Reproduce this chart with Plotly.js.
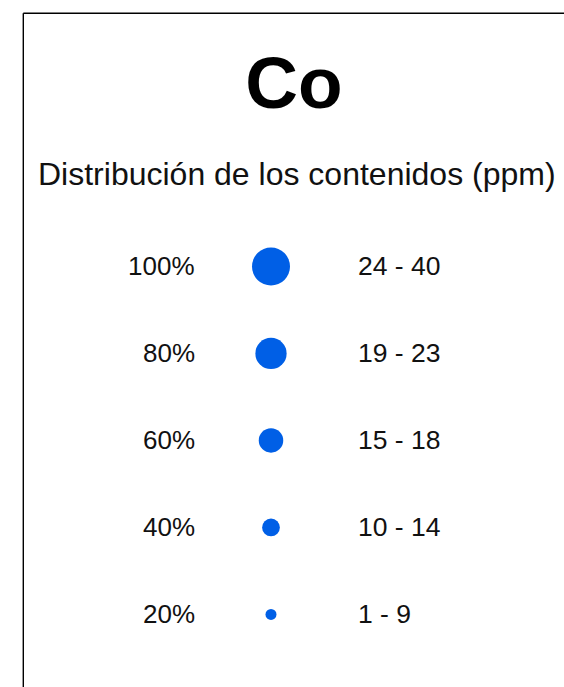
<!DOCTYPE html>
<html>
<head>
<meta charset="utf-8">
<script src="https://cdn.plot.ly/plotly-3.0.1.min.js"></script>
<style>html,body{margin:0;padding:0;background:#fff;}#chart{width:564px;height:687px;}</style>
</head>
<body>
<div id="chart"></div>
<script>
// Data
var elementName = 'Co';
var subtitleText = 'Distribución de los contenidos (ppm)';
var percentValues = [100, 80, 60, 40, 20];
var percentLabels = ['100%', '80%', '60%', '40%', '20%'];
var rangeLabels = ['24 - 40', '19 - 23', '15 - 18', '10 - 14', '1 - 9'];

// Size scale: 20% -> 11px, 100% -> 38px
function sizeScale(p) { return 11 + (p - 20) * 27 / 80; }

var FONT = '"Liberation Sans", Arial, Helvetica, sans-serif';
var W = 564, H = 687;

var trace = {
  type: 'scatter',
  mode: 'markers',
  x: percentLabels.map(function () { return 0; }),
  y: percentLabels,
  marker: {
    size: percentValues.map(sizeScale),
    color: '#005fe6',
    opacity: 1,
    line: {width: 0}
  },
  opacity: 1,
  hoverinfo: 'skip',
  showlegend: false
};

var annotations = [];
percentLabels.forEach(function (lab, i) {
  annotations.push({
    xref: 'x', yref: 'y', x: -0.745, y: lab, text: lab,
    xanchor: 'right', yanchor: 'middle', showarrow: false,
    font: {family: FONT, size: 26, color: '#111'}
  });
  annotations.push({
    xref: 'x', yref: 'y', x: 0.845, y: lab, text: rangeLabels[i],
    xanchor: 'left', yanchor: 'middle', showarrow: false,
    font: {family: FONT, size: 26.5, color: '#111'}
  });
});
annotations.push({
  xref: 'paper', yref: 'paper', x: 297 / W, y: 1 - 173.5 / H,
  text: subtitleText, xanchor: 'center', yanchor: 'middle', showarrow: false,
  font: {family: FONT, size: 32, color: '#111'}
});

var layout = {
  width: W, height: H,
  margin: {l: 0, r: 0, t: 0, b: 0, pad: 0},
  paper_bgcolor: '#fff', plot_bgcolor: '#fff',
  title: {
    text: '<b>' + elementName + '</b>',
    font: {family: FONT, size: 73, color: '#000'},
    x: 294 / W, xanchor: 'center',
    yref: 'container', y: 1 - 82 / H, yanchor: 'middle'
  },
  xaxis: {range: [-2.71, 2.93], visible: false, fixedrange: true},
  yaxis: {type: 'category', range: [4.834, -3.063], visible: false, fixedrange: true},
  shapes: [
    {type: 'line', xref: 'paper', yref: 'paper', x0: 23.3 / W, x1: 23.3 / W, y0: -0.05, y1: 1 - 13.3 / H,
     line: {color: '#000', width: 1.4}},
    {type: 'line', xref: 'paper', yref: 'paper', x0: 23.3 / W, x1: 1.05, y0: 1 - 13.3 / H, y1: 1 - 13.3 / H,
     line: {color: '#000', width: 1.4}}
  ],
  annotations: annotations
};

Plotly.newPlot('chart', [trace], layout, {displayModeBar: false, staticPlot: true});
</script>
</body>
</html>
